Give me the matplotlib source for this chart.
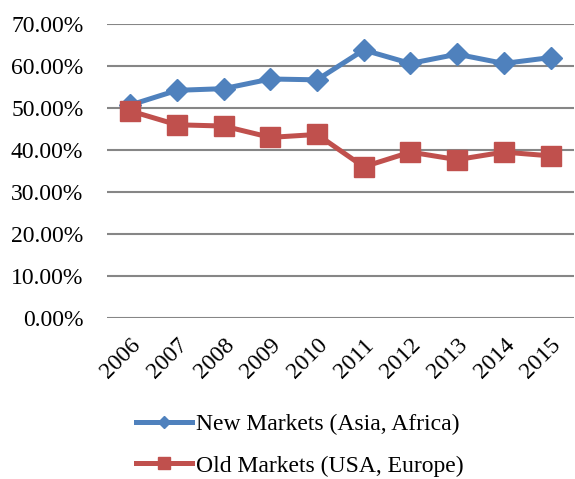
import matplotlib
matplotlib.use("Agg")
import matplotlib.pyplot as plt
from matplotlib.ticker import FuncFormatter

years = ["2006", "2007", "2008", "2009", "2010", "2011", "2012", "2013", "2014", "2015"]
new_markets = [50.7, 54.2, 54.6, 56.9, 56.7, 63.8, 60.6, 62.8, 60.6, 62.0]
old_markets = [49.3, 46.0, 45.7, 43.0, 43.7, 36.0, 39.5, 37.7, 39.5, 38.6]
y_ticks = [0, 10, 20, 30, 40, 50, 60, 70]

plt.rcParams["font.family"] = ["Liberation Serif", "DejaVu Serif"]

fig = plt.figure(figsize=(5.75, 4.79), dpi=100)
ax = fig.add_axes([0.186, 0.336, 0.812, 0.614])

x = list(range(len(years)))
ax.plot(x, new_markets, color="#4F81BD", lw=3.6, marker="D", ms=11,
        label="New Markets (Asia, Africa)", zorder=3)
ax.plot(x, old_markets, color="#C0504D", lw=3.6, marker="s", ms=14,
        label="Old Markets (USA, Europe)", zorder=4)

ax.set_xlim(-0.5, len(years) - 0.5)
ax.set_ylim(0, 70)
ax.set_yticks(y_ticks)
ax.yaxis.set_major_formatter(FuncFormatter(lambda v, p: "%.2f%%" % v))
ax.set_xticks(x)
ax.set_xticklabels(years, rotation=45, ha="right", rotation_mode="anchor")
ax.tick_params(axis="both", length=0, labelsize=17)
ax.tick_params(axis="y", pad=17)
ax.tick_params(axis="x", pad=12)

ax.grid(axis="y", color="#868686", lw=1.5)
ax.set_axisbelow(True)
for s in ax.spines.values():
    s.set_visible(False)

# legend below the plot, two rows
leg = fig.legend(loc="center left", bbox_to_anchor=(0.199, 0.071),
                 bbox_transform=fig.transFigure, frameon=False,
                 fontsize=17, handlelength=2.4, labelspacing=0.85,
                 handletextpad=0.15, markerscale=0.6)

fig.savefig("out.png", dpi=100)
